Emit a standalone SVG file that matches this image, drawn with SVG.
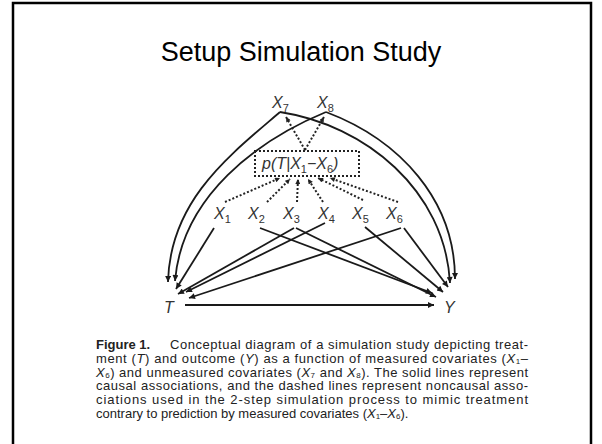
<svg xmlns="http://www.w3.org/2000/svg" width="602" height="444" viewBox="0 0 602 444">
  <style>
    .lbl { font-family: "Liberation Sans", Arial, sans-serif; font-style: italic; font-size: 16px; fill: #333; }
    .sub { font-size: 11px; font-style: normal; }
    .edge { fill: none; stroke: #1a1a1a; stroke-width: 1.8; marker-end: url(#arr); }
    .dot { fill: none; stroke: #222; stroke-width: 2; stroke-dasharray: 2 2; marker-end: url(#arrs); }
    .cap { font-family: "Liberation Sans", Arial, sans-serif; font-size: 13px; fill: #222; }
    .cs { font-size: 8px; }
  </style>
  <defs>
    <marker id="arr" viewBox="0 0 10 10" refX="10" refY="5" markerWidth="8" markerHeight="6" orient="auto" markerUnits="userSpaceOnUse">
      <path d="M0,0 L10,5 L0,10 z" fill="#1a1a1a"/>
    </marker>
    <marker id="arrs" viewBox="0 0 10 10" refX="10" refY="5" markerWidth="6" markerHeight="5" orient="auto" markerUnits="userSpaceOnUse">
      <path d="M0,0 L10,5 L0,10 z" fill="#222"/>
    </marker>
  </defs>

  <rect width="602" height="444" fill="#fff"/>
  <!-- slide frame -->
  <path d="M13,446 V3 H591 V446" fill="none" stroke="#000" stroke-width="2.5"/>

  <text x="301" y="61" text-anchor="middle" font-family="Liberation Sans, Arial, sans-serif" font-size="27" fill="#000">Setup Simulation Study</text>

  <!-- connectors -->
  <g id="connectors">
    <!-- unmeasured covariates -->
    <path class="edge" d="M280,112 C230,155 170,200 168,282"/>
    <path class="edge" d="M326,112 C258,140 182,196 175,281"/>
    <path class="edge" d="M280,112 C365,125 445,190 450,283"/>
    <path class="edge" d="M326,112 C400,140 455,200 455,279"/>
    <!-- measured covariates to T -->
    <path class="edge" d="M214,228 L176,289"/>
    <path class="edge" d="M294,228 L178,294"/>
    <path class="edge" d="M325,223 L186,292"/>
    <path class="edge" d="M401,228 L189,298"/>
    <!-- measured covariates to Y -->
    <path class="edge" d="M260,228 L432,293"/>
    <path class="edge" d="M296,228 L436,297"/>
    <path class="edge" d="M365,227 L443,292"/>
    <path class="edge" d="M404,228 L448,287"/>
    <!-- treatment to outcome -->
    <path class="edge" d="M185,305 L434,305"/>
    <!-- propensity model links -->
    <path class="dot" d="M305,150 L286,117"/>
    <path class="dot" d="M305,150 L324,117"/>
    <path class="dot" d="M225,202 L280,178"/>
    <path class="dot" d="M267,202 L290,179"/>
    <path class="dot" d="M297,202 L298,179"/>
    <path class="dot" d="M323,202 L308,179"/>
    <path class="dot" d="M363,200 L318,178"/>
    <path class="dot" d="M398,202 L330,178"/>
  </g>

  <g id="pbox">
    <rect x="255" y="151" width="104" height="25" fill="none" stroke="#222" stroke-width="2" stroke-dasharray="2 2"/>
    <text class="lbl" x="262" y="169" font-size="18">p(T|X<tspan class="sub" dy="4">1</tspan><tspan dy="-4">−X</tspan><tspan class="sub" dy="4">6</tspan><tspan dy="-4">)</tspan></text>
  </g>

  <g id="X7"><text class="lbl" x="272" y="108">X<tspan class="sub" dy="4">7</tspan></text></g>
  <g id="X8"><text class="lbl" x="317" y="108">X<tspan class="sub" dy="4">8</tspan></text></g>
  <g id="X1"><text class="lbl" x="214" y="219">X<tspan class="sub" dy="4">1</tspan></text></g>
  <g id="X2"><text class="lbl" x="248" y="219">X<tspan class="sub" dy="4">2</tspan></text></g>
  <g id="X3"><text class="lbl" x="283" y="219">X<tspan class="sub" dy="4">3</tspan></text></g>
  <g id="X4"><text class="lbl" x="318" y="219">X<tspan class="sub" dy="4">4</tspan></text></g>
  <g id="X5"><text class="lbl" x="352" y="219">X<tspan class="sub" dy="4">5</tspan></text></g>
  <g id="X6"><text class="lbl" x="386" y="219">X<tspan class="sub" dy="4">6</tspan></text></g>
  <g id="T"><text class="lbl" x="164" y="313">T</text></g>
  <g id="Y"><text class="lbl" x="444" y="313">Y</text></g>

  <g id="caption" class="cap">
    <text x="96" y="349" font-weight="bold">Figure 1.</text>
    <text x="170" y="349" textLength="358" lengthAdjust="spacing">Conceptual diagram of a simulation study depicting treat-</text>
    <text x="96" y="362.8" textLength="432" lengthAdjust="spacing">ment (<tspan font-style="italic">T</tspan>) and outcome (<tspan font-style="italic">Y</tspan>) as a function of measured covariates (<tspan font-style="italic">X</tspan><tspan class="cs" baseline-shift="-1">1</tspan>–</text>
    <text x="96" y="376.6" textLength="432" lengthAdjust="spacing"><tspan font-style="italic">X</tspan><tspan class="cs" baseline-shift="-1">6</tspan>) and unmeasured covariates (<tspan font-style="italic">X</tspan><tspan class="cs" baseline-shift="-1">7</tspan> and <tspan font-style="italic">X</tspan><tspan class="cs" baseline-shift="-1">8</tspan>). The solid lines represent</text>
    <text x="96" y="390.4" textLength="432" lengthAdjust="spacing">causal associations, and the dashed lines represent noncausal asso-</text>
    <text x="96" y="404.2" textLength="432" lengthAdjust="spacing">ciations used in the 2-step simulation process to mimic treatment</text>
    <text x="96" y="418">contrary to prediction by measured covariates (<tspan font-style="italic">X</tspan><tspan class="cs" baseline-shift="-1">1</tspan>–<tspan font-style="italic">X</tspan><tspan class="cs" baseline-shift="-1">6</tspan>).</text>
  </g>
</svg>
